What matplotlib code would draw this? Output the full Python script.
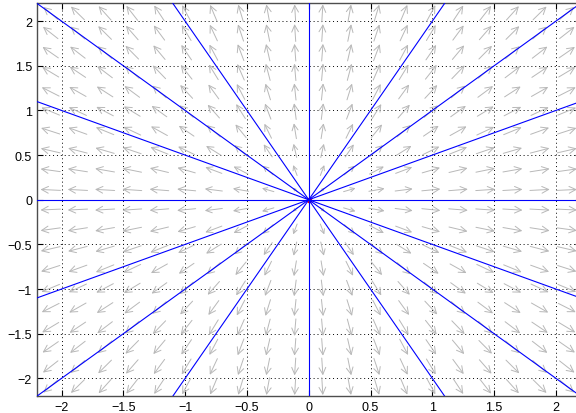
import numpy as np
import matplotlib
matplotlib.use('Agg')
import matplotlib.pyplot as plt

# axes range and ticks
xlim = [-2.2, 2.2]
ylim = [-2.2, 2.2]
xticks = [-2, -1.5, -1, -0.5, 0, 0.5, 1, 1.5, 2]
yticks = [-2, -1.5, -1, -0.5, 0, 0.5, 1, 1.5, 2]

# direction field grid (cell centres, 20 x 20)
grid_x = np.linspace(-2.09, 2.09, 20)
grid_y = np.linspace(-2.09, 2.09, 20)

# slopes of the trajectories through the origin (plus the vertical one)
slopes = [0, 0.5, 1, 2, -2, -1, -0.5]
vertical_x = [0]

fig = plt.figure(figsize=(5.76, 4.14), dpi=100)
ax = fig.add_axes([0.064, 0.0406, 0.944, 0.949])
ax.set_xlim(xlim)
ax.set_ylim(ylim)

# direction field x' = x, y' = y
X, Y = np.meshgrid(grid_x, grid_y)
R = np.sqrt(X**2 + Y**2)
f = R / np.sqrt(0.2 + R**2)
U = 0.165 * f * X / R
V = 0.2 * f * Y / R
for x0, y0, u, v, s in zip(X.ravel(), Y.ravel(), U.ravel(), V.ravel(), f.ravel()):
    ax.annotate('', xy=(x0 + u / 2, y0 + v / 2), xytext=(x0 - u / 2, y0 - v / 2),
                arrowprops=dict(arrowstyle='->, head_length=0.5, head_width=0.25',
                                color='0.72', lw=0.7, shrinkA=0, shrinkB=0,
                                mutation_scale=10 * s),
                annotation_clip=False, zorder=1)

# trajectories
ax.plot([0], [0], 'o', color='red', ms=3, zorder=2)
for s in slopes:
    ax.axline((0, 0), slope=s, color='#0000ff', lw=0.8, zorder=3)
for xv in vertical_x:
    ax.axvline(xv, color='#0000ff', lw=0.8, zorder=3)

ax.set_xticks(xticks)
ax.set_yticks(yticks)
ax.set_xticklabels(['\u22122', '\u22121.5', '\u22121', '\u22120.5', '0', '0.5', '1', '1.5', '2'])
ax.set_yticklabels(['\u22122', '\u22121.5', '\u22121', '\u22120.5', '0', '0.5', '1', '1.5', '2'])
ax.grid(True, color='black', linestyle=(0, (1, 3)), lw=0.7)
ax.set_axisbelow(True)
ax.tick_params(direction='in', length=4, width=0.8, top=True, right=True,
               labelsize=9, colors='black')
for sp in ax.spines.values():
    sp.set_color('0.3')
    sp.set_linewidth(1.0)
for lab in ax.get_xticklabels() + ax.get_yticklabels():
    lab.set_family('Liberation Sans')

fig.savefig('out.png', dpi=100)
